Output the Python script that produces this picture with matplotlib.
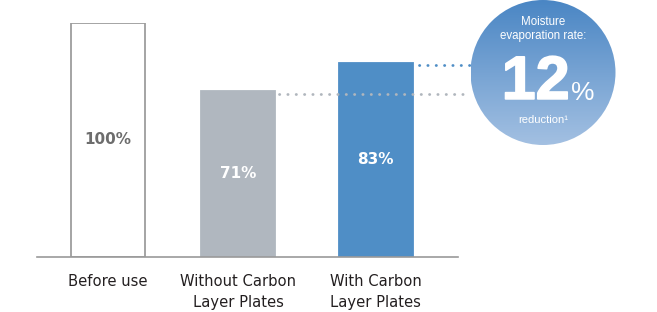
import numpy as np
import matplotlib
matplotlib.use("Agg")
import matplotlib.pyplot as plt
import matplotlib.patheffects as pe
from matplotlib.patches import Circle
from matplotlib.colors import LinearSegmentedColormap

plt.rcParams['font.family'] = ['DejaVu Sans']

# ---- data ----
categories = ["Before use", "Without Carbon\nLayer Plates", "With Carbon\nLayer Plates"]
values = [100, 71, 83]
value_labels = ["100%", "71%", "83%"]
reduction = 12

W, H = 657, 312
fig = plt.figure(figsize=(W / 100, H / 100), dpi=100)

# bar axes: baseline at y=256.5px, 100% at y=23px, x from 37 to 458 px
ax = fig.add_axes([37 / W, (H - 256.5) / H, 421 / W, 233.5 / H])
x0, x1 = -0.546, -0.546 + 421 / 130
ax.set_xlim(x0, x1)
ax.set_ylim(0, 100)
ax.axis("off")

xpos = [0, 1, 2.06]
width = 74 / 130
face = ["white", "#b0b7bf", "#4f8ec6"]
edge = ["#9d9d9d", "#b0b7bf", "#4f8ec6"]
text_col = ["#6d6d6d", "white", "white"]

ax.bar(xpos, values, width=width, color=face, edgecolor=edge, linewidth=1.3, zorder=2)
for x, v, lab, c in zip(xpos, values, value_labels, text_col):
    ax.text(x, v / 2, lab, ha="center", va="center", fontsize=11,
            fontweight="bold", color=c, zorder=4)

# baseline
ax.plot([x0, x1], [0, 0], color="#9a9a9a", lw=1.2, clip_on=False, zorder=3)

# category labels
for x, lab in zip(xpos, categories):
    ax.text(x, -7.6, lab, ha="center", va="top", fontsize=10.6, color="#231f20",
            linespacing=1.5)

# dotted guide lines to the bubble
xend = (470 - 37) / 130 + x0
ax.plot([xpos[1] + width / 2 + 0.03, xend], [values[1] - 1.4, values[1] - 1.4],
        linestyle=(0, (0.1, 2.9)), dash_capstyle="round", lw=2.0,
        color="#b0b6bd", clip_on=False, zorder=3)
ax.plot([xpos[2] + width / 2 + 0.05, xend], [values[2] - 1.0, values[2] - 1.0],
        linestyle=(0, (0.1, 2.9)), dash_capstyle="round", lw=2.0,
        color="#4f8ec6", clip_on=False, zorder=3)

# gradient bubble
cx, cy, r = 543, 72.5, 72.5
bax = fig.add_axes([(cx - r) / W, (H - cy - r) / H, 2 * r / W, 2 * r / H])
bax.set_xlim(0, 1)
bax.set_ylim(0, 1)
bax.axis("off")
cmap = LinearSegmentedColormap.from_list("bub", ["#a3c0e2", "#4a86c4"])
grad = np.linspace(0, 1, 256).reshape(-1, 1)
im = bax.imshow(grad, extent=[0, 1, 0, 1], origin="lower", aspect="auto", cmap=cmap)
circ = Circle((0.5, 0.5), 0.5, transform=bax.transAxes, facecolor="none", edgecolor="none")
bax.add_patch(circ)
im.set_clip_path(circ)

sans = ['Liberation Sans', 'DejaVu Sans']
bax.text(0.5, 0.80, "Moisture\nevaporation rate:", ha="center", va="center",
         fontsize=8.3, color="white", linespacing=1.2, family=sans)
bax.text(0.45, 0.318, str(reduction), ha="center", va="baseline", fontsize=44,
         fontweight="bold", color="white", family=sans,
         path_effects=[pe.withStroke(linewidth=1.2, foreground="white")])
bax.text(0.776, 0.31, "%", ha="center", va="baseline", fontsize=19,
         color="white", family=sans)
bax.text(0.5, 0.17, "reduction\u00b9", ha="center", va="center",
         fontsize=8, color="white", family=sans)

fig.savefig("out.png", dpi=100)
